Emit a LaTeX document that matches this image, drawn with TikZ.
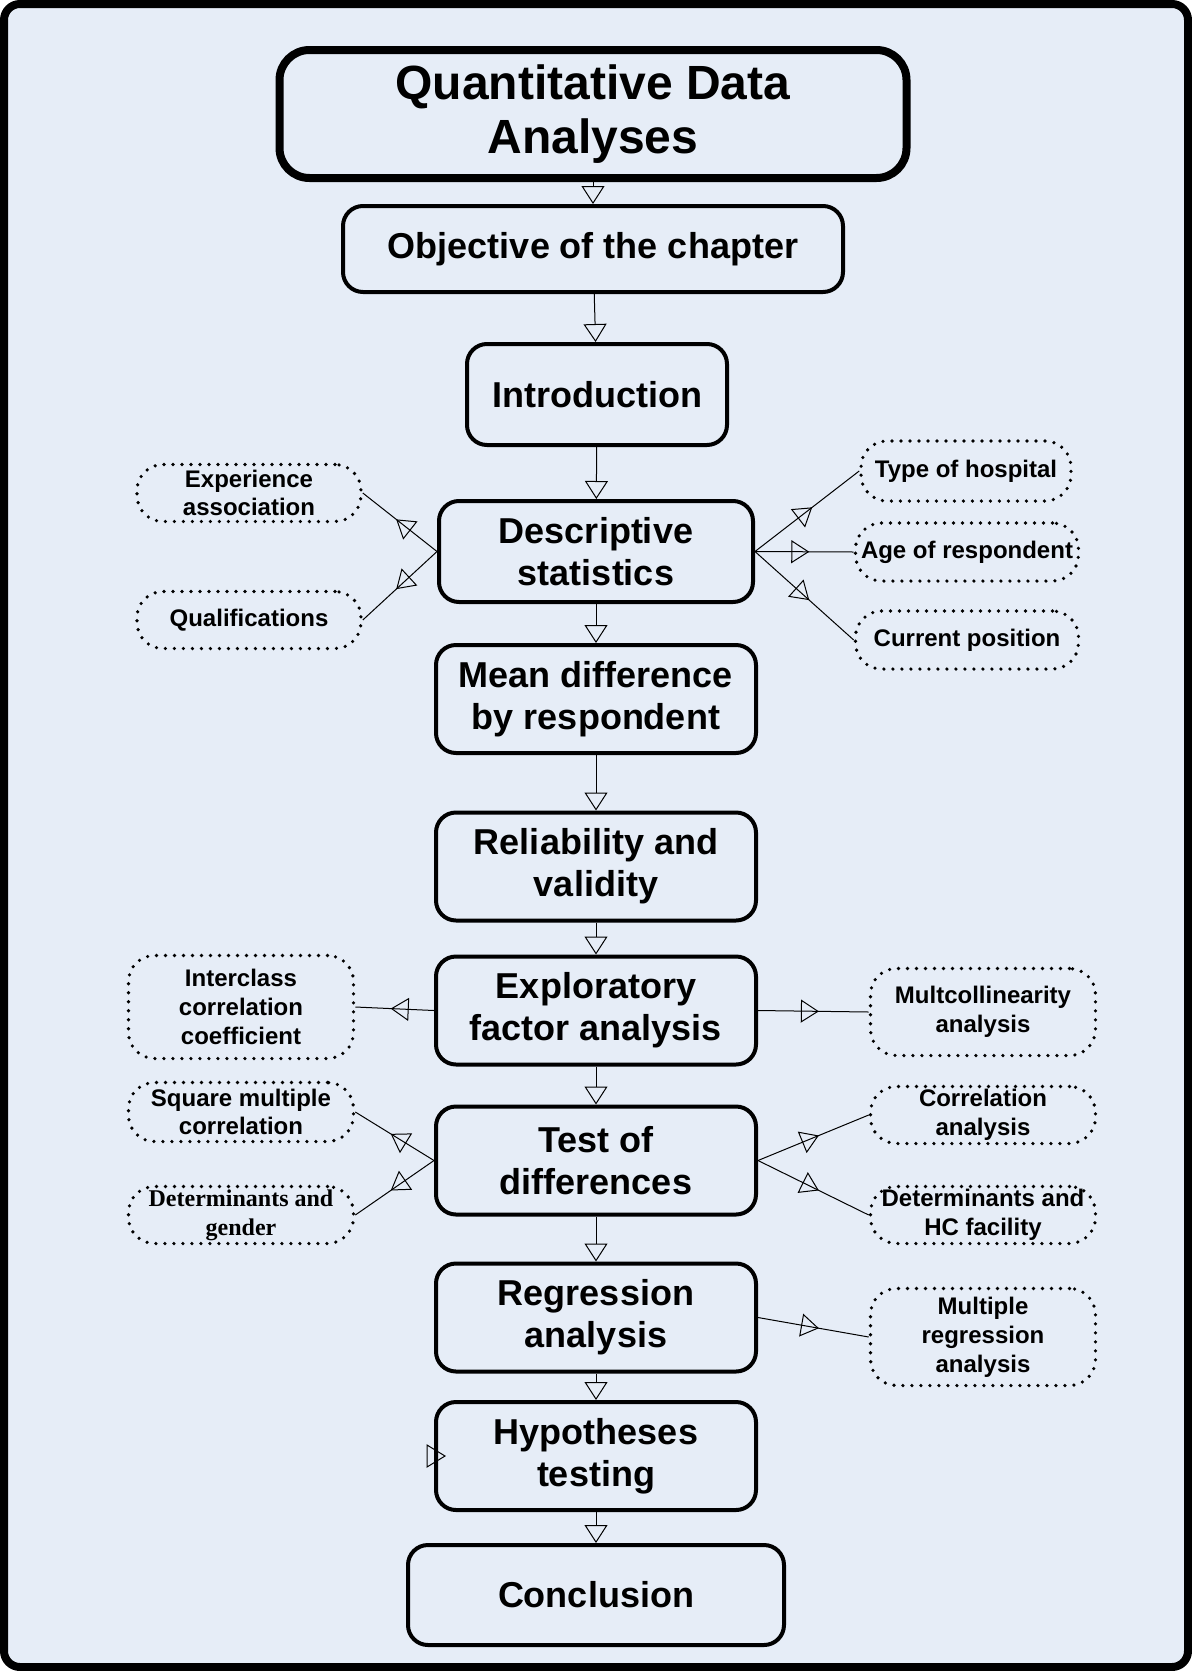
\documentclass[tikz,border=0pt]{standalone}
\usepackage{fontspec}
\setmainfont{Liberation Sans}
\newfontfamily\serifbold{Liberation Serif}
\usetikzlibrary{arrows.meta,decorations.markings,positioning}
\definecolor{paneblue}{RGB}{230,237,247}

\begin{document}
\begin{tikzpicture}[x=0.5pt,y=-0.5pt,
  >={Triangle[open,length=9pt,width=11.5pt]},
  box/.style={draw,line width=2pt,rounded corners=10pt,fill=paneblue,align=center,
    font=\fontsize{18}{21}\selectfont\bfseries,minimum width=160pt,minimum height=54pt,inner sep=0pt},
  side/.style={draw,line width=1.8pt,dash pattern=on 0pt off 4.5pt,line cap=round,rounded corners=13pt,
    align=center,font=\fontsize{12}{14.4}\selectfont\bfseries,minimum width=112.5pt,minimum height=28.5pt,inner sep=0pt},
  link/.style={line width=0.5pt},
  midarrow/.style={link,postaction={decorate},
    decoration={markings,mark=at position 0.55 with {\arrow{>}}}}]
  \useasboundingbox (0,0) rectangle (1192,1671);
  \draw[line width=4pt,rounded corners=8pt,fill=paneblue] (4,4) rectangle (1188,1667);

  \node[box,line width=4pt,rounded corners=15pt,minimum width=313.5pt,minimum height=64pt,
    font=\fontsize{24}{27}\selectfont\bfseries] (title) at (593,114) {Quantitative Data\\Analyses};
  \node[box,minimum width=250pt,minimum height=43pt] (obj) at (593,249) {Objective of the chapter};
  \node[box,minimum width=130pt,minimum height=50.5pt] (intro) at (597,394.5) {Introduction};
  \node[box,minimum width=157pt,minimum height=50.5pt] (desc) at (596,551.5) {Descriptive\\statistics};
  \node[box] (mean) at (596,699) {Mean difference\\by respondent};
  \node[box] (rel) at (596,866.5) {Reliability and\\validity};
  \node[box] (efa) at (596,1010.5) {Exploratory\\factor analysis};
  \node[box] (test) at (596,1160.5) {Test of\\differences};
  \node[box] (reg) at (596,1317.5) {Regression\\analysis};
  \node[box] (hyp) at (596,1456) {Hypotheses\\testing};
  \node[box,minimum width=188pt,minimum height=50pt] (conc) at (596,1595) {Conclusion};

  \node[side,minimum width=112pt] (exp) at (249,493) {Experience\\association};
  \node[side,minimum width=112pt] (qual) at (249,620) {Qualifications};
  \node[side,minimum width=105pt,minimum height=30pt] (hosp) at (966,471) {Type of hospital};
  \node[side,minimum width=111.5pt,minimum height=29pt] (age) at (967,552) {Age of respondent};
  \node[side,minimum width=111.5pt,minimum height=29pt] (pos) at (967,640) {Current position};
  \node[side,minimum height=51.5pt] (icc) at (241,1007) {Interclass\\correlation\\coefficient};
  \node[side,minimum height=43.5pt] (mcol) at (983,1012) {Multcollinearity\\analysis};
  \node[side,minimum height=29.5pt] (smc) at (241,1112) {Square multiple\\correlation};
  \node[side,font=\fontsize{12}{14.4}\selectfont\serifbold\bfseries] (detg) at (241,1215) {Determinants and\\gender};
  \node[side] (corr) at (983,1115) {Correlation\\analysis};
  \node[side] (dethc) at (983,1215) {Determinants and\\HC facility};
  \node[side,minimum height=48.5pt] (mreg) at (983,1337) {Multiple\\regression\\analysis};

  \draw[link,->] (title) -- (obj);
  \draw[link,->] (obj) -- (intro);
  \draw[link,->] (intro) -- (desc);
  \draw[link,->] (desc) -- (mean);
  \draw[link,->] (mean) -- (rel);
  \draw[link,->] (rel) -- (efa);
  \draw[link,->] (efa) -- (test);
  \draw[link,->] (test) -- (reg);
  \draw[link,->] (reg) -- (hyp);
  \draw[link,->] (hyp) -- (conc);

  \draw[midarrow] (desc.west) -- (exp.east);
  \draw[midarrow] (desc.west) -- (qual.east);
  \draw[midarrow] (desc.east) -- (hosp.west);
  \draw[midarrow] (desc.east) -- (age.west);
  \draw[midarrow] (desc.east) -- (pos.west);
  \draw[midarrow] (efa.west) -- (icc.east);
  \draw[midarrow] (efa.east) -- (mcol.west);
  \draw[midarrow] (test.west) -- (smc.east);
  \draw[midarrow] (test.west) -- (detg.east);
  \draw[midarrow] (test.east) -- (corr.west);
  \draw[midarrow] (test.east) -- (dethc.west);
  \draw[midarrow] (reg.east) -- (mreg.west);

  \draw[link] (hyp.west) ++(-7,-11) -- ++(18,11) -- ++(-18,11) -- cycle;
\end{tikzpicture}
\end{document}
